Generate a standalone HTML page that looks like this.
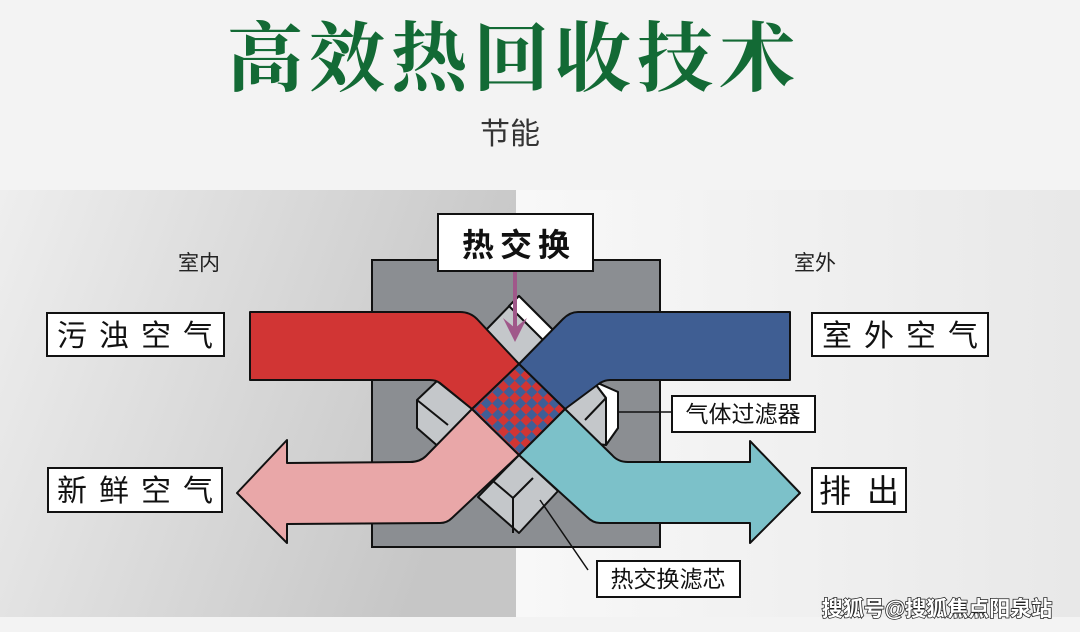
<!DOCTYPE html>
<html><head><meta charset="utf-8"><style>
html,body{margin:0;padding:0;background:#f3f3f3;}
svg{display:block;}
text{font-family:"Liberation Sans","Noto Sans CJK SC",sans-serif;}
</style></head><body>
<svg width="1080" height="632" viewBox="0 0 1080 632" xmlns="http://www.w3.org/2000/svg">
<defs>
<linearGradient id="lg" x1="0" y1="0" x2="1" y2="0.3">
<stop offset="0" stop-color="#eeeeee"/><stop offset="1" stop-color="#c6c6c6"/></linearGradient>
<linearGradient id="rg" x1="0" y1="0" x2="1" y2="0">
<stop offset="0" stop-color="#f8f8f8"/><stop offset="1" stop-color="#e8e8e8"/></linearGradient>
<pattern id="ck" width="16" height="16" patternUnits="userSpaceOnUse" patternTransform="rotate(45 519 409)">
<rect width="16" height="16" fill="#d13534"/><rect width="8" height="8" fill="#3f5e96"/><rect x="8" y="8" width="8" height="8" fill="#3f5e96"/></pattern>
</defs>
<rect width="1080" height="632" fill="#f3f3f3"/>
<rect x="0" y="190" width="516" height="427" fill="url(#lg)"/>
<rect x="516" y="190" width="564" height="427" fill="url(#rg)"/>

<text x="514" y="85" text-anchor="middle" font-size="76" font-weight="bold" fill="#136a35" letter-spacing="6" style="font-family:'Noto Serif CJK SC',serif">高效热回收技术</text>
<text x="510" y="144" text-anchor="middle" font-size="30" fill="#333">节能</text>
<text x="199" y="270" text-anchor="middle" font-size="21" fill="#222">室内</text>
<text x="815" y="270" text-anchor="middle" font-size="21" fill="#222">室外</text>

<rect x="372" y="260" width="288" height="287" fill="#8b8e92" stroke="#111" stroke-width="2"/>

<g stroke="#111" stroke-width="2" stroke-linejoin="round">
<polygon points="486,330 519,296 555,332 519,364" fill="#c4c7ca"/>
<polygon points="519,296 555,332 545,342 509,306" fill="#fff"/>
<polygon points="417,400 437,381 472,409 440,448 417,428" fill="#c4c7ca"/>
<line x1="417" y1="400" x2="448" y2="425"/>
<polygon points="565,409 593,381 618,392 618,428 606,445 590,443" fill="#c4c7ca"/>
<polygon points="593,381 618,392 618,428 606,445 606,398" fill="#fff"/>
<line x1="593" y1="381" x2="606" y2="398"/>
<line x1="606" y1="398" x2="585" y2="420"/>
<polygon points="519,455 478,497 519,533 558,491" fill="#c4c7ca"/>
<polyline points="493,481 513,498 533,478" fill="none"/>
<line x1="513" y1="498" x2="513" y2="533"/>

<path d="M250,312 L460,312 Q470,312 477,319 L519,364 L472,409 L440,383 Q436,380 430,380 L250,380 Z" fill="#d13534"/>
<path d="M790,312 L578,312 Q570,312 563,319 L519,364 L565,409 L600,383 Q605,380 610,380 L790,380 Z" fill="#3f5e93"/>
<path d="M472,409 L426,456 Q420,462 410,462 L287,463 L287,440 L237,493 L287,543 L287,524 L440,523 Q447,523 452,518 L519,455 Z" fill="#e9a7a8"/>
<path d="M565,409 L612,455 Q618,462 628,462 L750,462 L750,441 L800,493 L750,543 L750,523 L600,523 Q593,523 587,517 L519,455 Z" fill="#7cc1c9"/>
<polygon points="519,364 565,409 519,455 472,409" fill="url(#ck)"/>
</g>

<g stroke="#111" stroke-width="1.5">
<line x1="618" y1="412" x2="672" y2="412"/>
<line x1="540" y1="500" x2="588" y2="570"/>
</g>

<line x1="515" y1="272" x2="515" y2="330" stroke="#a0588a" stroke-width="4"/>
<path d="M503,318 L515,342 L527,318 L515,328 Z" fill="#a0588a"/>

<g fill="#fff" stroke="#111" stroke-width="2">
<rect x="438" y="214" width="155" height="57"/>
<rect x="47" y="313" width="177" height="43"/>
<rect x="48" y="468" width="174" height="44"/>
<rect x="812" y="313" width="176" height="43"/>
<rect x="812" y="468" width="94" height="44"/>
<rect x="672" y="396" width="143" height="36"/>
<rect x="597" y="561" width="143" height="36"/>
</g>
<text x="519" y="256" text-anchor="middle" font-size="32" font-weight="bold" fill="#111" letter-spacing="6">热交换</text>
<text x="141" y="346" text-anchor="middle" font-size="30" fill="#111" letter-spacing="12">污浊空气</text>
<text x="141" y="501" text-anchor="middle" font-size="30" fill="#111" letter-spacing="12">新鲜空气</text>
<text x="906" y="346" text-anchor="middle" font-size="30" fill="#111" letter-spacing="12">室外空气</text>
<text x="867" y="502" text-anchor="middle" font-size="32" fill="#111" letter-spacing="16">排出</text>
<text x="743" y="422" text-anchor="middle" font-size="23" fill="#111">气体过滤器</text>
<text x="668" y="587" text-anchor="middle" font-size="23" fill="#111">热交换滤芯</text>
<text x="937" y="616" text-anchor="middle" font-size="21" font-weight="bold" fill="#fff" stroke="#222" stroke-width="1.5" paint-order="stroke">搜狐号@搜狐焦点阳泉站</text>
</svg>
</body></html>
